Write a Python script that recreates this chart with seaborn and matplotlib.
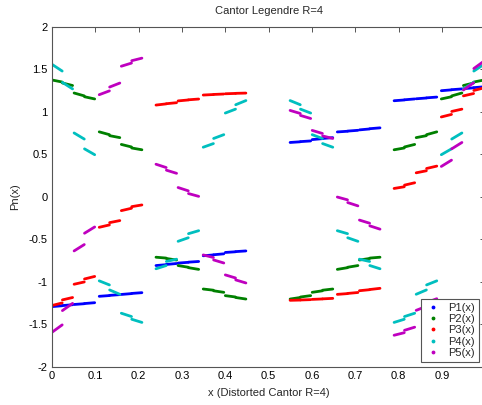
import matplotlib
matplotlib.use("Agg")
import matplotlib.pyplot as plt
from matplotlib.lines import Line2D
import seaborn as sns
import pandas as pd

# ---------------- data ----------------
series_names = ["P1(x)", "P2(x)", "P3(x)", "P4(x)", "P5(x)"]

x_start = [0.000, 0.024, 0.051, 0.075, 0.109, 0.133, 0.160, 0.184,
           0.240, 0.264, 0.291, 0.315, 0.349, 0.373, 0.400, 0.424,
           0.5495, 0.5735, 0.6005, 0.6245, 0.6585, 0.6825, 0.7095, 0.7335,
           0.7895, 0.8135, 0.8405, 0.8645, 0.8985, 0.9225, 0.9495, 0.9735]
x_end = [0.0235, 0.0475, 0.0745, 0.0985, 0.1325, 0.1565, 0.1835, 0.2075,
         0.2635, 0.2875, 0.3145, 0.3385, 0.3725, 0.3965, 0.4235, 0.4475,
         0.573, 0.597, 0.624, 0.648, 0.682, 0.706, 0.733, 0.757,
         0.813, 0.837, 0.864, 0.888, 0.922, 0.946, 0.973, 0.997]

p1_start = [-1.293, -1.281, -1.268, -1.257, -1.172, -1.161, -1.150, -1.138,
            -0.810, -0.797, -0.781, -0.770, -0.695, -0.683, -0.656, -0.646,
            0.638, 0.648, 0.672, 0.685, 0.762, 0.772, 0.786, 0.800,
            1.129, 1.140, 1.152, 1.163, 1.247, 1.259, 1.271, 1.283]
p1_end = [-1.283, -1.271, -1.259, -1.247, -1.163, -1.152, -1.140, -1.129,
          -0.800, -0.786, -0.772, -0.762, -0.685, -0.672, -0.648, -0.638,
          0.646, 0.656, 0.683, 0.695, 0.770, 0.781, 0.797, 0.810,
          1.138, 1.150, 1.161, 1.172, 1.257, 1.268, 1.281, 1.293]

p2_start = [1.373, 1.338, 1.220, 1.176, 0.763, 0.718, 0.615, 0.573,
            -0.712, -0.727, -0.810, -0.835, -1.086, -1.107, -1.164, -1.186,
            -1.204, -1.180, -1.125, -1.100, -0.855, -0.830, -0.745, -0.722,
            0.552, 0.585, 0.695, 0.730, 1.150, 1.186, 1.308, 1.349]
p2_end = [1.349, 1.308, 1.186, 1.150, 0.730, 0.695, 0.585, 0.552,
          -0.722, -0.745, -0.830, -0.855, -1.100, -1.125, -1.180, -1.204,
          -1.186, -1.164, -1.107, -1.086, -0.835, -0.810, -0.727, -0.712,
          0.573, 0.615, 0.718, 0.763, 1.176, 1.220, 1.338, 1.373]

p3_start = [-1.280, -1.214, -1.030, -0.968, -0.360, -0.305, -0.164, -0.117,
            1.078, 1.094, 1.127, 1.140, 1.196, 1.203, 1.211, 1.216,
            -1.219, -1.215, -1.208, -1.202, -1.149, -1.138, -1.106, -1.092,
            0.097, 0.136, 0.281, 0.332, 0.938, 1.003, 1.186, 1.250]
p3_end = [-1.250, -1.186, -1.003, -0.938, -0.332, -0.281, -0.136, -0.097,
          1.092, 1.106, 1.138, 1.149, 1.202, 1.208, 1.215, 1.219,
          -1.216, -1.211, -1.203, -1.196, -1.140, -1.127, -1.094, -1.078,
          0.117, 0.164, 0.305, 0.360, 0.968, 1.030, 1.214, 1.280]

p4_start = [1.557, 1.345, 0.750, 0.563, -0.990, -1.097, -1.371, -1.442,
            -0.848, -0.762, -0.525, -0.435, 0.582, 0.685, 0.984, 1.082,
            1.131, 1.030, 0.730, 0.625, -0.400, -0.483, -0.735, -0.810,
            -1.479, -1.410, -1.148, -1.038, 0.494, 0.678, 1.268, 1.478]
p4_end = [1.478, 1.268, 0.678, 0.494, -1.038, -1.148, -1.410, -1.479,
          -0.810, -0.735, -0.483, -0.400, 0.625, 0.730, 1.030, 1.131,
          1.082, 0.984, 0.685, 0.582, -0.435, -0.525, -0.762, -0.848,
          -1.442, -1.371, -1.097, -0.990, 0.563, 0.750, 1.345, 1.557]

p5_start = [-1.595, -1.340, -0.638, -0.430, 1.200, 1.290, 1.535, 1.600,
            0.382, 0.312, 0.108, 0.037, -0.685, -0.744, -0.920, -0.979,
            1.015, 0.956, 0.780, 0.715, -0.004, -0.069, -0.275, -0.343,
            -1.630, -1.572, -1.337, -1.245, 0.356, 0.563, 1.255, 1.508]
p5_end = [-1.508, -1.255, -0.563, -0.356, 1.245, 1.337, 1.572, 1.630,
          0.343, 0.275, 0.069, 0.004, -0.715, -0.780, -0.956, -1.015,
          0.979, 0.920, 0.744, 0.685, -0.037, -0.108, -0.312, -0.382,
          -1.600, -1.535, -1.290, -1.200, 0.430, 0.638, 1.340, 1.595]

# the reference image is cropped just before the "1" tick label
x_ticks = [0, 0.1, 0.2, 0.3, 0.4, 0.5, 0.6, 0.7, 0.8, 0.9, 1.0]
x_tick_labels = ["0", "0.1", "0.2", "0.3", "0.4", "0.5", "0.6", "0.7", "0.8", "0.9", ""]
y_ticks = [-2, -1.5, -1, -0.5, 0, 0.5, 1, 1.5, 2]
y_tick_labels = ["-2", "-1.5", "-1", "-0.5", "0", "0.5", "1", "1.5", "2"]

# ---------------- build long table ----------------
starts = [p1_start, p2_start, p3_start, p4_start, p5_start]
ends = [p1_end, p2_end, p3_end, p4_end, p5_end]
rows = []
for name, ys, ye in zip(series_names, starts, ends):
    for i in range(len(x_start)):
        seg = f"{name}_{i}"
        rows.append({"x": x_start[i], "y": ys[i], "series": name, "seg": seg})
        rows.append({"x": x_end[i], "y": ye[i], "series": name, "seg": seg})
df = pd.DataFrame(rows)

# ---------------- styling ----------------
sns.set_theme(style="white")
plt.rcParams["font.family"] = ["Liberation Sans", "DejaVu Sans"]

colors = [(0, 0, 1), (0, 0.5, 0), (1, 0, 0), (0, 0.75, 0.75), (0.75, 0, 0.75)]
palette = dict(zip(series_names, colors))
axis_col = "#555555"

fig = plt.figure(figsize=(4.82, 4.05), dpi=100)
fig.patch.set_facecolor("white")
ax = fig.add_axes([52 / 482, 1 - 366.7 / 405, 433.3 / 482, 340 / 405])

sns.lineplot(data=df, x="x", y="y", hue="series", units="seg", estimator=None,
             sort=False, palette=palette, hue_order=series_names,
             linewidth=2.0, legend=False, ax=ax,
             solid_capstyle="round")

ax.set_xlim(0, 1)
ax.set_ylim(-2, 2)
ax.set_xticks(x_ticks)
ax.set_xticklabels(x_tick_labels)
ax.set_yticks(y_ticks)
ax.set_yticklabels(y_tick_labels)
ax.tick_params(direction="in", length=3.5, width=0.7, colors=axis_col,
               labelcolor="black", labelsize=8, top=True, right=True, pad=3)
for sp in ax.spines.values():
    sp.set_color(axis_col)
    sp.set_linewidth(0.8)
    sp.set_visible(True)

ax.set_title("Cantor Legendre R=4", fontsize=8, pad=9)
ax.set_xlabel("x (Distorted Cantor R=4)", fontsize=8, labelpad=5)
ax.set_ylabel("Pn(x)", fontsize=8, labelpad=6)

handles = [Line2D([], [], marker=".", linestyle="none", color=c, markersize=3.5)
           for c in colors]
leg = ax.legend(handles, series_names, loc="lower right",
                bbox_to_anchor=(0.985, 0.014), fontsize=8, frameon=True,
                fancybox=False, edgecolor=axis_col, framealpha=1,
                labelspacing=0.12, handlelength=1.4, handletextpad=0.7,
                borderpad=0.35, borderaxespad=0.0)
leg.get_frame().set_linewidth(0.8)

fig.savefig("out.png", dpi=100, facecolor="white")
